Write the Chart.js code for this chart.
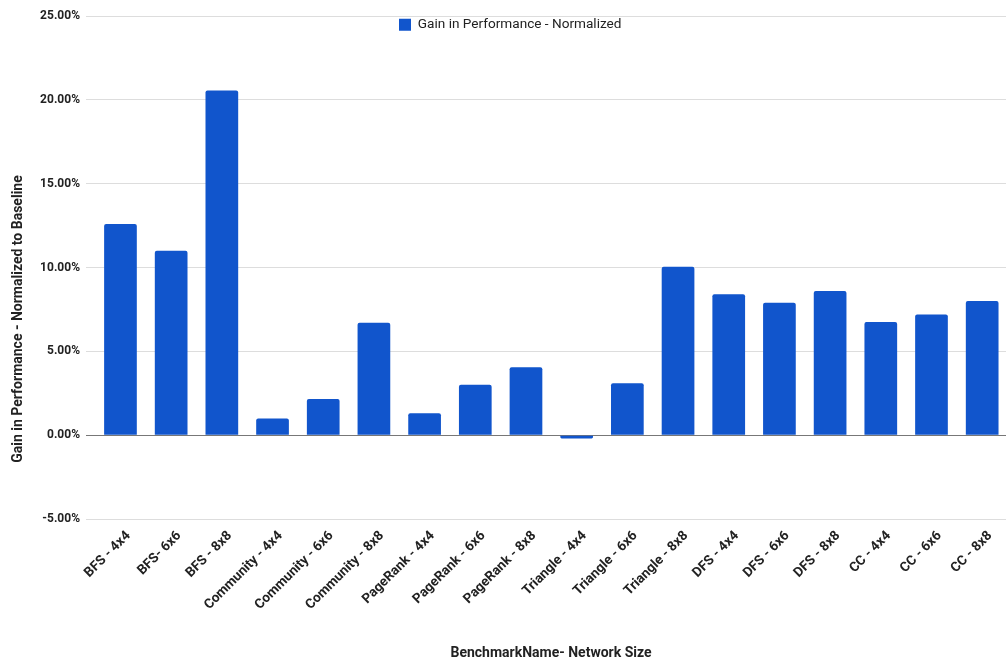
<!DOCTYPE html>
<html>
<head>
<meta charset="utf-8">
<script src="https://cdn.jsdelivr.net/npm/chart.js@4/dist/chart.umd.min.js"></script>
<style>
  html, body { margin: 0; padding: 0; background: #ffffff; }
  canvas { display: block; }
</style>
</head>
<body>
<canvas id="chart" width="1006" height="662"></canvas>
<script>
// Benchmark / network-size combinations along the x axis
const categories = [
  'BFS - 4x4', 'BFS- 6x6', 'BFS - 8x8',
  'Community - 4x4', 'Community - 6x6', 'Community - 8x8',
  'PageRank - 4x4', 'PageRank - 6x6', 'PageRank - 8x8',
  'Triangle - 4x4', 'Triangle - 6x6', 'Triangle - 8x8',
  'DFS - 4x4', 'DFS - 6x6', 'DFS - 8x8',
  'CC - 4x4', 'CC - 6x6', 'CC - 8x8'
];

// Normalized performance gain, in percent
const gains = [
  12.6, 11.0, 20.55,
  1.0, 2.15, 6.7,
  1.3, 3.0, 4.05,
  -0.2, 3.1, 10.05,
  8.4, 7.9, 8.6,
  6.75, 7.2, 8.0
];

const seriesName = 'Gain in Performance - Normalized';
const xTitle = 'BenchmarkName- Network Size';
const yTitle = 'Gain in Performance - Normalized to Baseline';

// y-axis tick range (percent)
const yMin = -5;
const yMax = 25;
const yStep = 5;

// visible index window of the category axis (plot runs a little past the last bar)
const xMin = -0.68;
const xMax = 17.47;

const barColor = '#1155cc';
const textColor = '#222222';

// Place the single legend entry inside the plot, near the top
const legendPlace = {
  id: 'legendPlace',
  afterLayout(chart) {
    const lg = chart.legend;
    if (!lg) return;
    const w = lg.width, h = lg.height;
    lg.left = 399;
    lg.right = lg.left + w;
    lg.top = chart.chartArea.top + 2;
    lg.bottom = lg.top + h;
  }
};

// Axis titles, centred on the full category span
const axisTitles = {
  id: 'axisTitles',
  afterDraw(chart) {
    const ctx = chart.ctx;
    ctx.save();
    ctx.font = 'bold 14px Roboto';
    ctx.fillStyle = textColor;
    ctx.textAlign = 'center';
    ctx.textBaseline = 'middle';
    ctx.fillText(xTitle, 551, 653);
    ctx.translate(18, 319);
    ctx.rotate(-Math.PI / 2);
    ctx.fillText(yTitle, 0, 0);
    ctx.restore();
  }
};

new Chart(document.getElementById('chart'), {
  type: 'bar',
  data: {
    datasets: [{
      label: seriesName,
      data: gains.map((v, i) => ({ x: i, y: v })),
      backgroundColor: barColor,
      borderRadius: 2,
      barPercentage: 0.645,
      categoryPercentage: 1.0
    }]
  },
  options: {
    responsive: false,
    animation: false,
    layout: { padding: { left: 11, top: 16, right: 0, bottom: 0 } },
    plugins: {
      legend: {
        position: 'chartArea',
        align: 'start',
        labels: {
          boxWidth: 12,
          boxHeight: 12,
          padding: 0,
          color: textColor,
          font: { family: 'Roboto', size: 13.6 }
        }
      },
      tooltip: { enabled: false }
    },
    scales: {
      x: {
        type: 'linear',
        min: xMin,
        max: xMax,
        offset: false,
        grid: { display: false },
        border: { display: false },
        ticks: {
          stepSize: 1,
          includeBounds: false,
          autoSkip: false,
          minRotation: 45,
          maxRotation: 45,
          padding: 1,
          labelOffset: 8,
          color: textColor,
          font: { family: 'Roboto', size: 13.5, weight: 'bold' },
          callback: (v) => (Number.isInteger(v) && categories[v] !== undefined ? categories[v] : '')
        },
        afterFit(scale) { scale.height = 143; }
      },
      y: {
        min: yMin,
        max: yMax,
        border: { display: false },
        grid: {
          drawTicks: false,
          lineWidth: 1,
          color: (c) => (c.tick && c.tick.value === 0 ? '#777777' : '#dddddd')
        },
        ticks: {
          stepSize: yStep,
          padding: 6,
          color: textColor,
          font: { family: 'Roboto', size: 12, weight: 'bold' },
          callback: (v) => v.toFixed(2) + '%'
        },
        afterFit(scale) { scale.width = 75; }
      }
    }
  },
  plugins: [legendPlace, axisTitles]
});
</script>
</body>
</html>
